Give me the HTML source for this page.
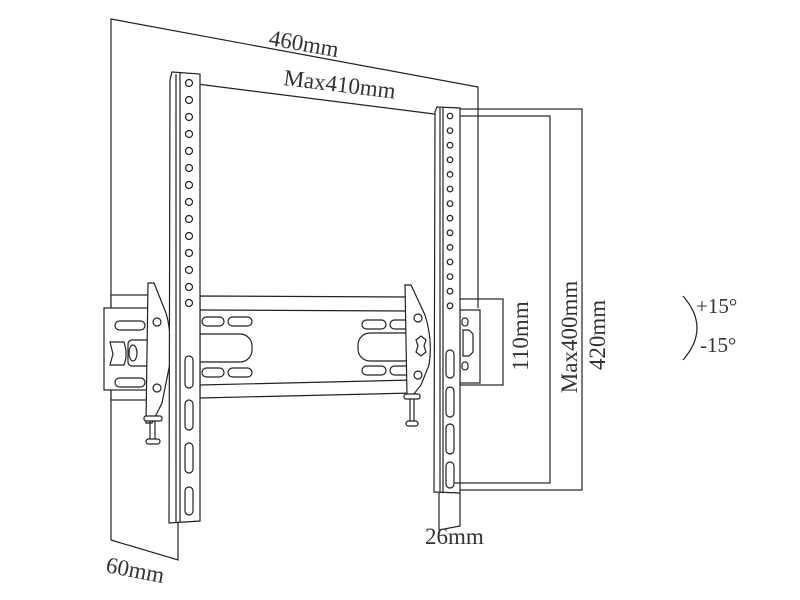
<!DOCTYPE html>
<html><head><meta charset="utf-8"><style>
html,body{margin:0;padding:0;background:#fff;}
svg{display:block;}
text{font-family:"Liberation Serif",serif;fill:#333;font-size:23px;}
</style></head><body>
<svg width="800" height="600" viewBox="0 0 800 600" xmlns="http://www.w3.org/2000/svg" fill="none" stroke="#222" stroke-width="1.2">
<polyline points="111,540 111,19 478,87 478,308"/>
<polyline points="111,540 178,560 178,523"/>
<polyline points="439,493 439,530 460,526 460,493"/>
<line x1="189" y1="83" x2="450" y2="116"/>
<rect x="457" y="109" width="125" height="381"/>
<rect x="457" y="116" width="93" height="367"/>
<rect x="457" y="299" width="46" height="86"/>
<rect x="460" y="310" width="20" height="73" fill="#fff"/>
<path d="M463 330 h6 l4 4 v18 l-4 4 h-6 z" fill="#fff"/>
<rect x="462" y="318" width="6" height="8" rx="3"/>
<rect x="462" y="362" width="6" height="8" rx="3"/>
<path d="M200 296 L413 297 L413 380 L200 385 Z" fill="#fff"/>
<line x1="200" y1="310" x2="413" y2="311"/>
<line x1="200" y1="398" x2="413" y2="393"/>
<line x1="200" y1="385" x2="200" y2="398"/>
<rect x="202" y="317" width="22" height="9" rx="4.5"/>
<rect x="228" y="317" width="24" height="9" rx="4.5"/>
<rect x="202" y="368" width="22" height="9" rx="4.5"/>
<rect x="228" y="368" width="24" height="9" rx="4.5"/>
<path d="M200 334 h40 a12 12 0 0 1 12 12 v4 a12 12 0 0 1 -12 12 h-40"/>
<rect x="362" y="320" width="24" height="9" rx="4.5"/>
<rect x="390" y="320" width="22" height="9" rx="4.5"/>
<rect x="362" y="366" width="24" height="9" rx="4.5"/>
<rect x="390" y="366" width="22" height="9" rx="4.5"/>
<path d="M413 333 h-43 a12 12 0 0 0 -12 12 v4 a12 12 0 0 0 12 12 h43"/>
<rect x="111" y="295" width="40" height="105" fill="#fff"/>
<rect x="104" y="308" width="48" height="82" fill="#fff"/>
<rect x="115" y="321" width="30" height="9" rx="4.5"/>
<rect x="115" y="378" width="30" height="9" rx="4.5"/>
<path d="M110 342 h14 l2 8 v8 l-2 7 h-14 l3 -11 z" fill="#fff"/>
<rect x="128" y="340" width="34" height="26" rx="4" fill="#fff"/>
<ellipse cx="133" cy="353" rx="4" ry="8"/>
<path d="M148 283 l6 0 l12 30 q6 20 4 50 l-8 40 l-10 20 h-6 z" fill="#fff"/>
<circle cx="157" cy="322" r="4"/>
<circle cx="157" cy="388" r="4"/>
<line x1="150" y1="420" x2="150" y2="440"/><line x1="155" y1="420" x2="155" y2="440"/>
<rect x="144" y="416" width="18" height="5" rx="2" fill="#fff"/>
<rect x="146" y="439" width="14" height="5" rx="2.5" fill="#fff"/>
<path d="M405 285 l6 0 l14 30 q8 25 4 50 l-8 20 l-8 10 h-6 z" fill="#fff"/>
<circle cx="418" cy="318" r="4"/>
<circle cx="418" cy="375" r="4"/>
<path d="M416 340 l5 -4 l5 4 l-2 6 l2 6 l-5 4 l-5 -4 l2 -6z"/>
<line x1="410" y1="398" x2="410" y2="422"/><line x1="414" y1="398" x2="414" y2="422"/>
<rect x="404" y="394" width="16" height="5" rx="2" fill="#fff"/>
<rect x="406" y="421" width="12" height="5" rx="2.5" fill="#fff"/>
<path d="M172 72 L200 74 L200 521 L169 523 L170 80 Z" fill="#fff"/>
<line x1="176" y1="74" x2="176" y2="522"/>
<line x1="180" y1="73" x2="180" y2="522"/>
<g>
<circle cx="189" cy="83" r="3.5"/><circle cx="189" cy="100" r="3.5"/><circle cx="189" cy="117" r="3.5"/><circle cx="189" cy="134" r="3.5"/><circle cx="189" cy="151" r="3.5"/><circle cx="189" cy="168" r="3.5"/><circle cx="189" cy="185" r="3.5"/><circle cx="189" cy="202" r="3.5"/><circle cx="189" cy="219" r="3.5"/><circle cx="189" cy="236" r="3.5"/><circle cx="189" cy="253" r="3.5"/><circle cx="189" cy="270" r="3.5"/><circle cx="189" cy="287" r="3.5"/><circle cx="189" cy="303" r="3.5"/>
</g>
<rect x="185" y="356" width="8" height="32" rx="4"/>
<rect x="185" y="400" width="8" height="30" rx="4"/>
<rect x="185" y="443" width="8" height="30" rx="4"/>
<rect x="185" y="487" width="8" height="28" rx="4"/>
<path d="M437 107 L460 108 L460 493 L434 492 L435 112 Z" fill="#fff"/>
<line x1="440" y1="108" x2="440" y2="492"/>
<line x1="443" y1="108" x2="443" y2="492"/>
<g>
<circle cx="450" cy="116" r="2.8"/><circle cx="450" cy="130.6" r="2.8"/><circle cx="450" cy="145.2" r="2.8"/><circle cx="450" cy="159.8" r="2.8"/><circle cx="450" cy="174.4" r="2.8"/><circle cx="450" cy="189" r="2.8"/><circle cx="450" cy="203.6" r="2.8"/><circle cx="450" cy="218.2" r="2.8"/><circle cx="450" cy="232.8" r="2.8"/><circle cx="450" cy="247.4" r="2.8"/><circle cx="450" cy="262" r="2.8"/><circle cx="450" cy="276.6" r="2.8"/><circle cx="450" cy="291.2" r="2.8"/><circle cx="450" cy="305.8" r="2.8"/>
</g>
<rect x="446" y="350" width="8" height="28" rx="4"/>
<rect x="446" y="387" width="8" height="30" rx="4"/>
<rect x="446" y="424" width="8" height="30" rx="4"/>
<rect x="446" y="462" width="8" height="26" rx="4"/>
<line x1="454" y1="483" x2="460" y2="483"/>
<path d="M683 296 Q711 328 683 360"/>
<g stroke="none">
<text x="268" y="45" transform="rotate(10 268 45)">460mm</text>
<text x="283" y="85" transform="rotate(7 283 85)">Max410mm</text>
<text x="105" y="572" transform="rotate(11 105 572)">60mm</text>
<text x="425" y="544">26mm</text>
<text text-anchor="middle" transform="translate(528 336) rotate(-90)">110mm</text>
<text text-anchor="middle" transform="translate(577 337) rotate(-90)">Max400mm</text>
<text text-anchor="middle" transform="translate(605 335) rotate(-90)">420mm</text>
<text x="696" y="313" style="font-size:21px">+15°</text>
<text x="700" y="352" style="font-size:21px">-15°</text>
</g>
</svg>
</body></html>
